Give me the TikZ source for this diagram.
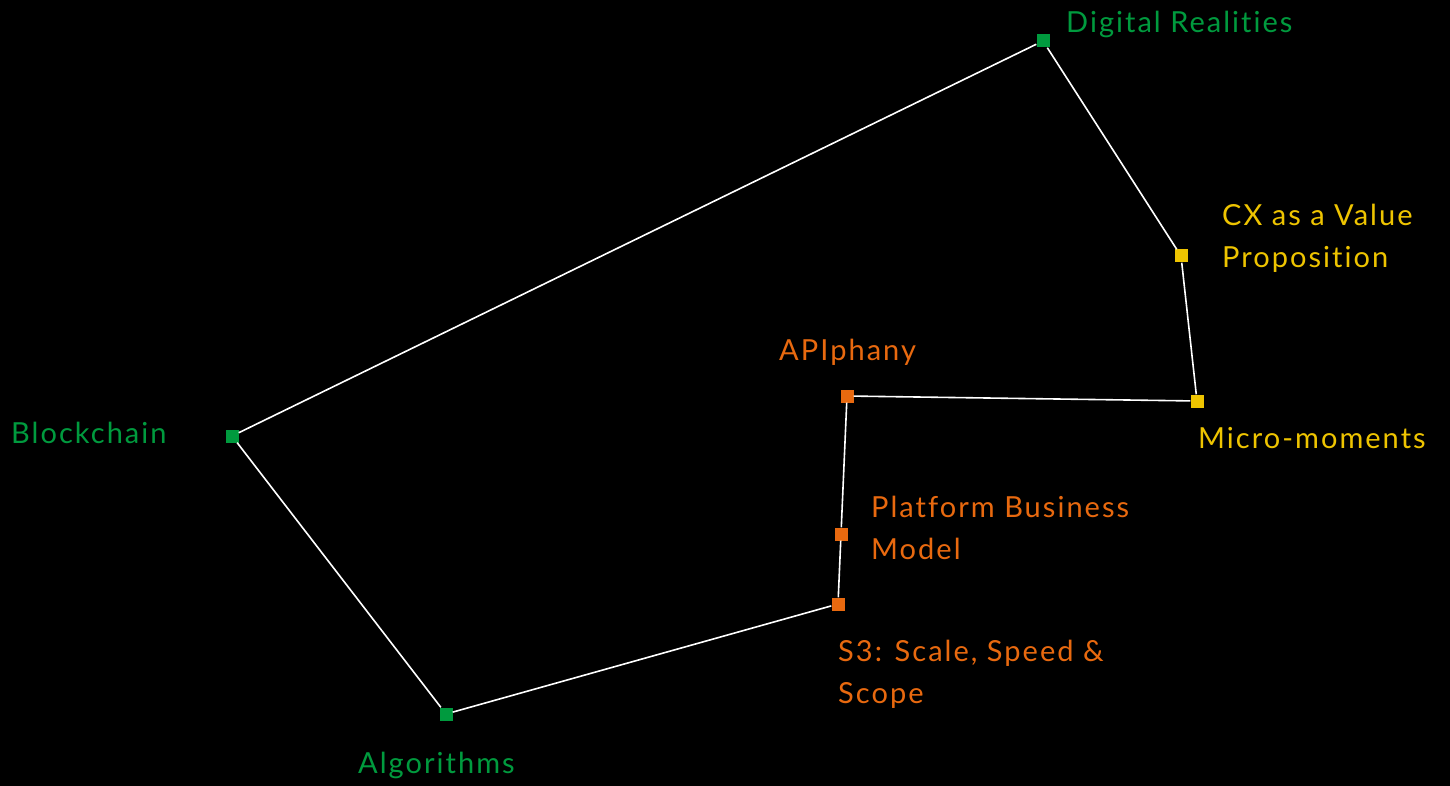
\documentclass[tikz,border=0pt]{standalone}
\usepackage{fontspec}
\setmainfont{Lato}[LetterSpace=7,Ligatures=NoCommon]
\usepackage{xcolor}
\definecolor{grn}{HTML}{009A3E}
\definecolor{ylw}{HTML}{EEC400}
\definecolor{orng}{HTML}{E8690F}

\begin{document}
\begin{tikzpicture}[x=1pt,y=-1pt,
        dot/.style={fill=#1,minimum size=13pt,inner sep=0pt},
        lbl/.style={text=#1,font=\fontsize{29}{42}\selectfont,inner sep=0pt,anchor=base west,align=left},
        link/.style={white,line width=1.6pt}]
        \fill[black] (0,0) rectangle (1450,786);
        \node[dot=grn] (digital) at (1043,41) {};
        \node[dot=ylw] (cx) at (1181,256) {};
        \node[dot=ylw] (micro) at (1197,401) {};
        \node[dot=orng] (api) at (847,396) {};
        \node[dot=orng] (platform) at (841,534) {};
        \node[dot=orng] (sss) at (838,604) {};
        \node[dot=grn] (algo) at (446,714) {};
        \node[dot=grn] (block) at (232,436) {};

        \draw[link] (block) -- (digital) -- (cx) -- (micro)
            -- (api) -- (platform) -- (sss) -- (algo) -- (block);

        \node[lbl=grn] (digitalL) at (1066,33) {Digital Realities};
        \node[lbl=ylw] (cxL) at (1222,267) {CX as a Value\\Proposition};
        \node[lbl=ylw] (microL) at (1198,448) {Micro-moments};
        \node[lbl=orng] (apiL) at (779,360) {APIphany};
        \node[lbl=orng] (platformL) at (871,559) {Platform Business\\Model};
        \node[lbl=orng] (sssL) at (838,703) {S3: Scale, Speed \&\\Scope};
        \node[lbl=grn] (algoL) at (358,773) {Algorithms};
        \node[lbl=grn] (blockL) at (11,443) {Blockchain};
\end{tikzpicture}
\end{document}
